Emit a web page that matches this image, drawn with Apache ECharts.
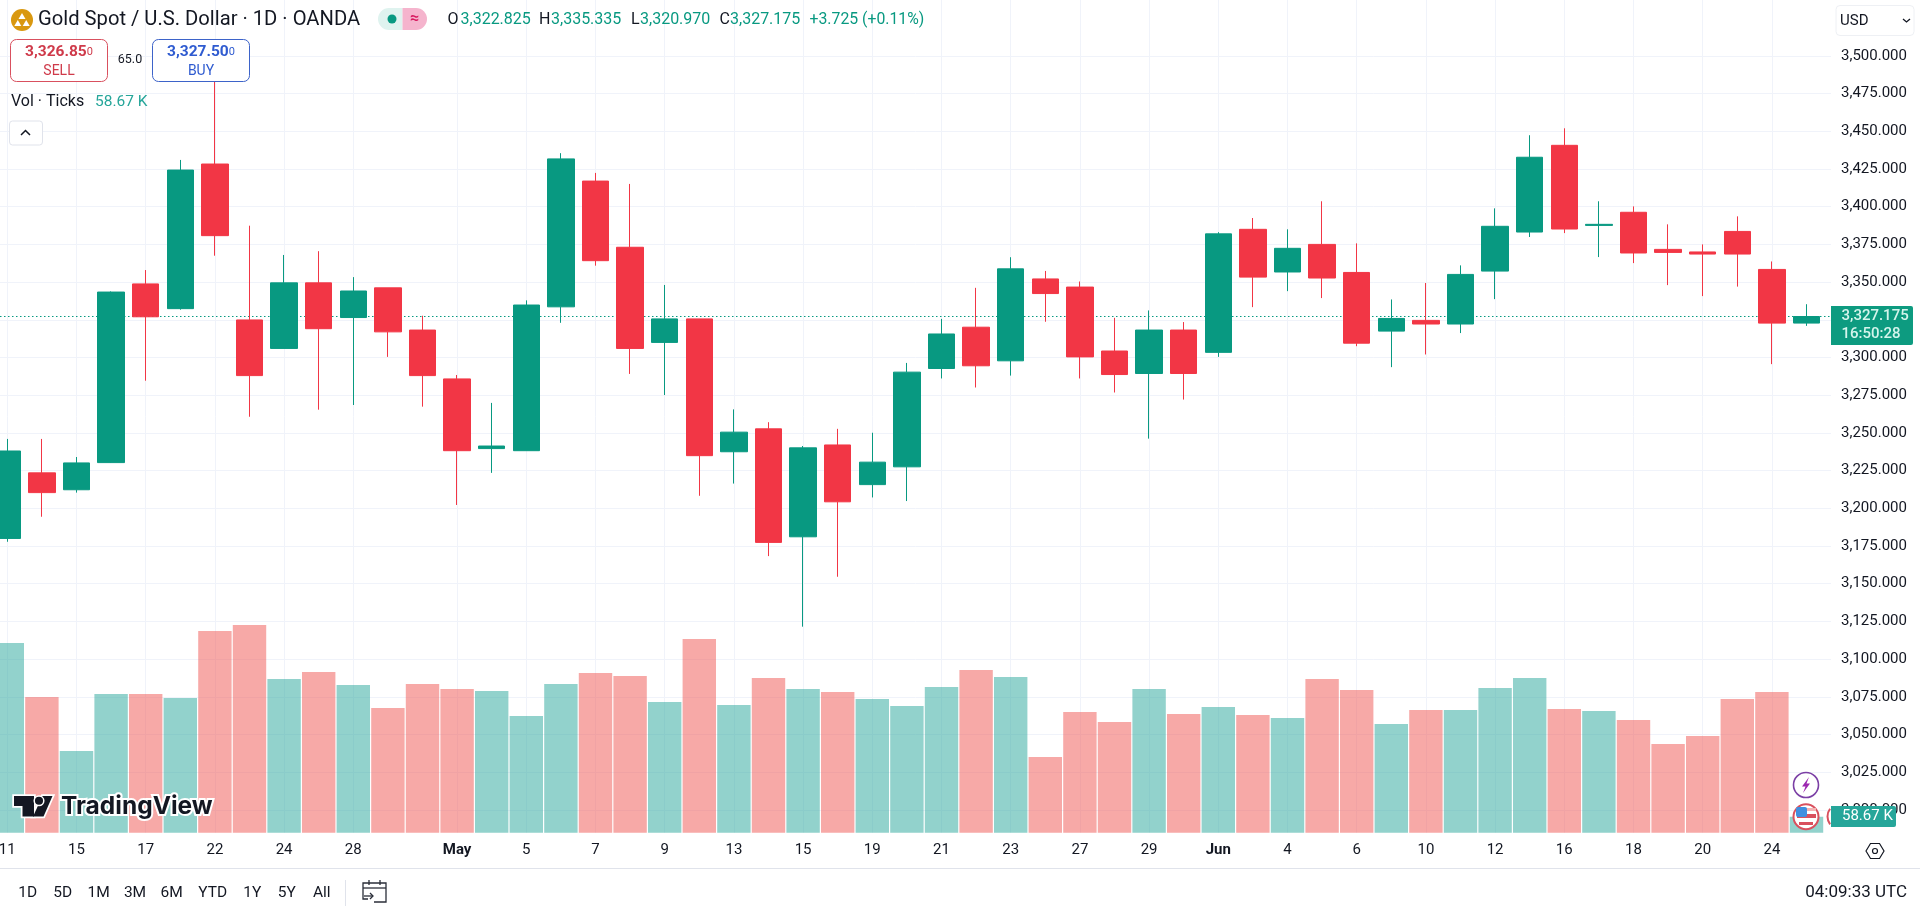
<!DOCTYPE html>
<html><head><meta charset="utf-8">
<style>html,body{margin:0;padding:0;background:#fff;overflow:hidden}#c{width:1920px;height:908px}</style>
<script src="https://cdn.jsdelivr.net/npm/echarts@6/dist/echarts.min.js"></script>
</head><body><div id="c"></div>
<script>
const categories=['11','14','15','16','17','21','22','23','24','25','28','29','30','May','2','5','6','7','8','9','12','13','14','15','16','19','20','21','22','23','26','27','28','29','30','Jun','3','4','5','6','9','10','11','12','13','16','17','18','19','20','23','24','25'];
const shownIdx=[0,2,4,6,8,10,13,15,17,19,21,23,25,27,29,31,33,35,37,39,41,43,45,47,49,51];
const opens=[3180,3223.5,3212.3,3230.3,3348.8,3332.4,3428.3,3324.9,3306,3349.5,3326.5,3346.2,3318.2,3285.8,3239.6,3238.2,3333.6,3417,3373.1,3310,3325.6,3237.5,3252.7,3181.1,3242,3215.7,3227.5,3292.7,3320.1,3297.8,3352.1,3346.7,3304.3,3289.4,3318.2,3303.4,3385,3356.7,3375,3356.4,3317.5,3324.6,3322.2,3357.3,3383.2,3440.7,3387.6,3396.3,3371.7,3370,3383.6,3358.4,3322.825];
const closes=[3238,3210.4,3230.1,3343.4,3327,3424.3,3380.8,3288,3349.5,3319.1,3344.1,3317,3288,3238.2,3241.3,3334.8,3431.7,3364.2,3306,3325.6,3234.9,3250.5,3177.4,3240.1,3204.3,3230.6,3290.3,3315.6,3294.5,3358.8,3342.4,3300.4,3288.7,3318.2,3289.4,3382,3353.3,3372.4,3352.7,3309.5,3325.9,3322.2,3355.1,3387,3432.8,3385.2,3388.3,3369.3,3369.7,3368.6,3368.6,3322.8,3327.175];
const lows=[3177.8,3194.4,3210.4,3230.1,3284.6,3331.7,3367.5,3260.7,3306,3265.4,3268.5,3300.4,3267.4,3202.2,3223.5,3238.2,3323,3360.9,3289.1,3275.1,3208.3,3216.4,3168.3,3121.5,3154.6,3207.2,3204.8,3286.1,3280.1,3288,3323.7,3286.1,3276.8,3246.2,3272.1,3300.4,3333.4,3344,3339.4,3307.5,3293.6,3302,3316.2,3338.7,3379.9,3382.5,3366.6,3362.6,3348,3340.7,3347,3295.6,3320.97];
const highs=[3246,3246,3234,3343.8,3358,3431,3500,3387.4,3368,3370.5,3353.3,3346.2,3327.7,3288.4,3269.9,3337.9,3435.5,3422.4,3415.1,3348.1,3325.6,3265.6,3257.1,3241.3,3252.7,3250.1,3296.4,3325.6,3346.2,3366.5,3357.4,3350.4,3326.3,3331.2,3323.5,3383.1,3392.5,3385,3403.6,3375.7,3338.5,3349.4,3361.1,3398.9,3447.4,3452,3403.6,3400.2,3388.3,3375,3393.6,3363.7,3335.335];
const volumes=[695.3,497.4,299.4,508.4,508.4,493.7,739.3,761.3,563.3,589,541.3,457,545,526.7,519.4,427.7,545,585.3,574.3,479,710,468,567,526.7,515.7,490,464.4,534,596.3,570.7,277.4,442.4,405.7,526.7,435,460.7,431.4,420.4,563.3,523,398.4,449.7,449.7,530.3,567,453.4,446,413,325,354.4,490,515.7,58.67];
const lastPrice=3327.175;

const UP='#089981',DOWN='#f23645',F='Roboto, sans-serif',INK='#131722';
const candleData=opens.map((o,i)=>[o,closes[i],lows[i],highs[i]]);
const volData=volumes.map((v,i)=>({value:v,itemStyle:{color:closes[i]>=opens[i]?'rgba(38,166,154,.5)':'rgba(239,83,80,.5)'}}));
const showFn=i=>shownIdx.includes(i);
const T=(x,y,text,o={})=>({type:'text',x,y,silent:true,z:o.z||50,style:Object.assign({text,fill:o.fill||INK,font:`${o.weight||'normal'} ${o.size||14}px ${F}`,textAlign:o.align||'left',textVerticalAlign:'middle'},o.style||{})});
const R=(x,y,w,h,o={})=>({type:'rect',silent:true,z:o.z||40,shape:{x,y,width:w,height:h,r:o.r||0},style:{fill:o.fill||'#fff',stroke:o.stroke||null,lineWidth:o.lw||1}});
const PL=(points,z=40)=>({type:'polyline',silent:true,z,shape:{points},style:{stroke:'#2a2e39',lineWidth:1.3,fill:null}});
const logoT=[[14,796],[34,796],[34,816.5],[22.5,816.5],[22.5,806],[14,806]];
const logoS=[[42.5,796],[52.5,796],[43.5,816.5],[33,816.5]];
const ticksText=[['1D',27.7],['5D',62.7],['1M',98.7],['3M',135],['6M',171.7],['YTD',212.7],['1Y',252.3],['5Y',286.7],['All',321.7]];
const graphics=[
 {type:'circle',silent:true,z:40,shape:{cx:22,cy:20,r:11},style:{fill:'#d9980f'}},
 {type:'polygon',silent:true,z:41,shape:{points:[[22,13],[25.5,19],[18.5,19]]},style:{fill:'#fff'}},
 {type:'polygon',silent:true,z:41,shape:{points:[[17.8,20],[21.3,26],[14.3,26]]},style:{fill:'#fff'}},
 {type:'polygon',silent:true,z:41,shape:{points:[[26.2,20],[29.7,26],[22.7,26]]},style:{fill:'#fff'}},
 T(38,20,'Gold Spot / U.S. Dollar · 1D · OANDA',{size:20.2}),
 R(378,8,24.5,22,{fill:'#dff3ef',r:[11,0,0,11]}),R(402.5,8,24.5,22,{fill:'#f5b4cd',r:[0,11,11,0]}),
 {type:'circle',silent:true,z:41,shape:{cx:392,cy:19,r:4.5},style:{fill:UP}},
 T(414.5,19,'≈',{size:16,align:'center',fill:'#d81b60',weight:'bold'}),
 T(447.6,20,'O',{size:16}),T(460.5,20,'3,322.825',{size:16,fill:UP}),
 T(539,20,'H',{size:16}),T(551,20,'3,335.335',{size:16,fill:UP}),
 T(631,20,'L',{size:16}),T(640,20,'3,320.970',{size:16,fill:UP}),
 T(719.5,20,'C',{size:16}),T(730,20,'3,327.175',{size:16,fill:UP}),
 T(809.5,20,'+3.725 (+0.11%)',{size:15.8,fill:UP}),
 R(10.5,39.5,97,42,{stroke:'#d9505e',r:6}),
 T(59,52,'3,326.85{s|0}',{size:15.5,align:'center',fill:'#cf3a4a',weight:'bold',style:{rich:{s:{fontSize:11,fill:'#cf3a4a',fontFamily:'Roboto'}}}}),
 T(59,71,'SELL',{size:14,align:'center',fill:'#cf3a4a'}),
 T(130,60,'65.0',{size:12.5,align:'center'}),
 R(152.5,39.5,97,42,{stroke:'#3d63c9',r:6}),
 T(201,52,'3,327.50{s|0}',{size:15.5,align:'center',fill:'#2f5bd0',weight:'bold',style:{rich:{s:{fontSize:11,fill:'#2f5bd0',fontFamily:'Roboto'}}}}),
 T(201,71,'BUY',{size:14,align:'center',fill:'#2f5bd0'}),
 T(11,102,'Vol · Ticks',{size:16}),T(95,102,'58.67 K',{size:15.5,fill:'#26a69a'}),
 R(9.5,121,33,24,{stroke:'#e0e3eb',r:3}),
 {type:'polyline',silent:true,z:41,shape:{points:[[21,135],[25.5,130.5],[30,135]]},style:{stroke:INK,lineWidth:1.5,fill:null}},
 R(1836,5.5,78,30,{stroke:'#eef0f4',r:4}),
 T(1840,21,'USD',{size:15}),
 {type:'polyline',silent:true,z:41,shape:{points:[[1903,19],[1906.5,22],[1910,19]]},style:{stroke:INK,lineWidth:1.3,fill:null}},
 R(1831,306,82,39,{fill:'#0d9b80',r:[0,2,2,0]}),
 T(1841.5,316,'3,327.175',{size:15,fill:'#d5f5ec',weight:'500',z:51}),
 T(1841.5,334,'16:50:28',{size:15,fill:'#d5f5ec',weight:'500',z:51}),
 {type:'arc',silent:true,z:41,shape:{cx:1840.5,cy:816.5,r:13,startAngle:2.5,endAngle:3.78},style:{stroke:'#d9505e',lineWidth:2,fill:null}},
 R(1831,806,65,21,{fill:'#26a69a',r:[0,2,2,0]}),
 T(1842,816.5,'58.67 K',{size:15,fill:'#fff',z:51}),
 {type:'circle',silent:true,z:41,shape:{cx:1806,cy:785,r:12.5},style:{fill:'#fff',stroke:'#7b3fa5',lineWidth:1.6}},
 {type:'polygon',silent:true,z:42,shape:{points:[[1809,777],[1802,786.5],[1805.5,786.5],[1803,793],[1810,783.5],[1806.5,783.5]]},style:{fill:'#9c27b0'}},
 {type:'circle',silent:true,z:41,shape:{cx:1806,cy:816.7,r:12.5},style:{fill:'#fff',stroke:'#d9505e',lineWidth:2}},
 R(1796,808,20,3,{fill:'#f4b3b3',z:42}),R(1797,814,19,4,{fill:'#d9505e',z:42}),R(1799,822,14,3,{fill:'#d9505e',z:42}),
 R(1796,807,11,10,{fill:'#3f8fe0',z:43,r:2}),
 {type:'polygon',silent:true,z:60,shape:{points:logoT},style:{fill:'#fff',stroke:'#fff',lineWidth:3.5}},
 {type:'polygon',silent:true,z:60,shape:{points:logoS},style:{fill:'#fff',stroke:'#fff',lineWidth:3.5}},
 {type:'polygon',silent:true,z:61,shape:{points:logoT},style:{fill:'#131722'}},
 {type:'polygon',silent:true,z:61,shape:{points:logoS},style:{fill:'#131722'}},
 {type:'circle',silent:true,z:62,shape:{cx:39,cy:800.8,r:4.8},style:{fill:'#131722',stroke:'#fff',lineWidth:1.5}},
 {type:'text',silent:true,z:60,x:61,y:807,style:{text:'TradingView',fill:'#131722',font:`bold 24.5px Inter, ${F}`,textVerticalAlign:'middle',stroke:'#fff',lineWidth:4}},
 {type:'line',silent:true,z:10,shape:{x1:0,y1:868.5,x2:1920,y2:868.5},style:{stroke:'#e0e3eb',lineWidth:1}},
 {type:'line',silent:true,z:10,shape:{x1:345.5,y1:880,x2:345.5,y2:906},style:{stroke:'#e0e3eb',lineWidth:1}},
 ...ticksText.map(([t,x])=>T(x,893,t,{size:15.5,align:'center'})),
 PL([[368,899],[363,899],[363,883],[386,883],[386,902],[374,902]]),PL([[363,888],[386,888]]),PL([[369,880],[369,885]]),PL([[380,880],[380,885]]),PL([[364,896],[373,896]]),PL([[370,893],[373,896],[370,899]]),
 T(1907,893,'04:09:33 UTC',{size:17,align:'right'}),
 {type:'polygon',silent:true,z:40,shape:{points:[[1866,851],[1870.5,843.5],[1879.5,843.5],[1884,851],[1879.5,858.5],[1870.5,858.5]]},style:{fill:'#fff',stroke:INK,lineWidth:1.2}},
 {type:'circle',silent:true,z:41,shape:{cx:1875,cy:851,r:2.5},style:{fill:'#fff',stroke:INK,lineWidth:1.2}}
];
const gridPlot={left:-10,width:1833.8,outerBoundsMode:'none'};
const option={
 animation:false,backgroundColor:'#fff',
 textStyle:{fontFamily:F},
 grid:[
  {left:0,right:89,top:55.9,bottom:98.1,outerBoundsMode:'none'},
  {...gridPlot,top:0,height:832.7},
  {...gridPlot,top:55.9,bottom:98.1}
 ],
 xAxis:[
  {gridIndex:0,type:'value',min:0,max:1,show:false},
  {gridIndex:1,type:'category',data:categories,boundaryGap:true,
   axisLine:{show:false},axisTick:{show:false},
   axisLabel:{interval:i=>showFn(i),margin:10,fontSize:15,fontFamily:F,color:INK,showMinLabel:true,hideOverlap:false,
     formatter:v=>/[A-Z]/.test(v)?`{b|${v}}`:v,rich:{b:{fontWeight:'bold',fontSize:15,fontFamily:F,color:INK}}},
   splitLine:{show:true,alignWithLabel:true,interval:i=>showFn(i),lineStyle:{color:'#f0f3fa',width:1}}},
  {gridIndex:2,type:'category',data:categories,show:false}
 ],
 yAxis:[
  {gridIndex:0,type:'value',position:'right',min:3000,max:3500,interval:25,
   axisLine:{show:false},axisTick:{show:false},
   axisLabel:{margin:10,fontSize:15,fontFamily:F,color:INK,formatter:v=>v.toLocaleString('en-US',{minimumFractionDigits:3,maximumFractionDigits:3})},
   splitLine:{show:true,lineStyle:{color:'#f0f3fa',width:1}}},
  {gridIndex:1,type:'value',min:0,max:3053,show:false,splitLine:{show:false}},
  {gridIndex:2,type:'value',min:3000,max:3500,show:false,splitLine:{show:false}}
 ],
 series:[
  {name:'Last',type:'line',xAxisIndex:0,yAxisIndex:0,data:[],symbol:'none',silent:true,
   markLine:{silent:true,symbol:'none',label:{show:false},lineStyle:{color:UP,type:[1.5,2.5],width:1.2},data:[{yAxis:lastPrice}]}},
  {name:'Vol',type:'bar',xAxisIndex:1,yAxisIndex:1,data:volData,barWidth:33.4,silent:true},
  {name:'Gold',type:'candlestick',xAxisIndex:2,yAxisIndex:2,data:candleData,barWidth:27,silent:true,z:5,
   itemStyle:{color:UP,color0:DOWN,borderColor:UP,borderColor0:DOWN,borderWidth:1}}
 ],
 graphic:{elements:graphics}
};
const chart=echarts.init(document.getElementById('c'),null,{renderer:'canvas'});
chart.setOption(option);
</script></body></html>
